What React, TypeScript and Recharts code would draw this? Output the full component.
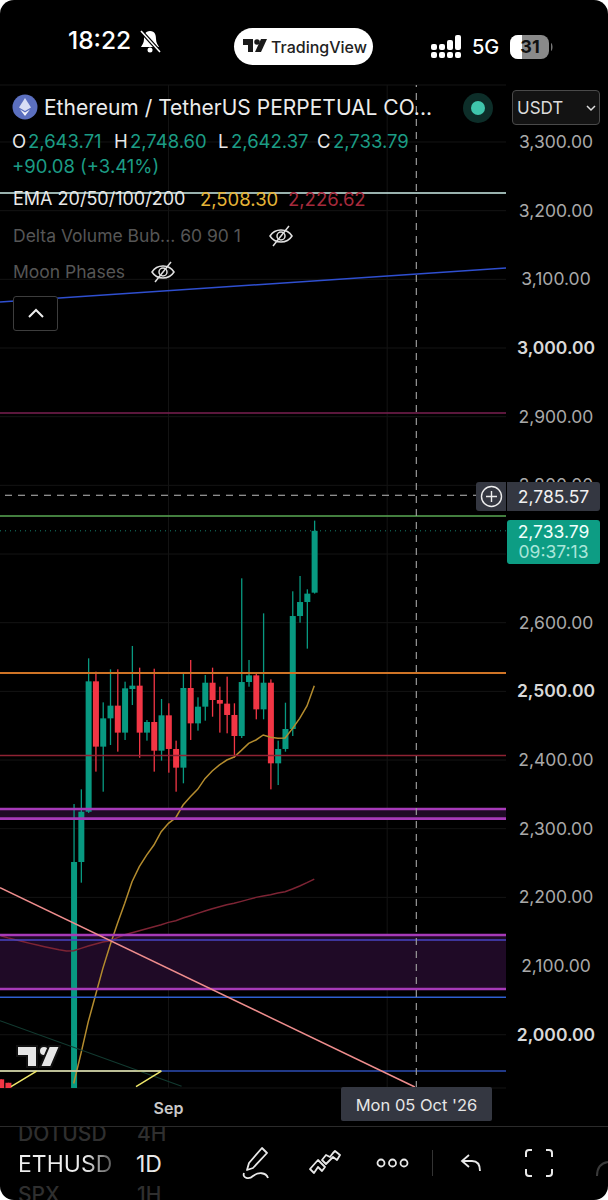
import React from 'react';
import {
    ComposedChart, Bar, Line, XAxis, YAxis, CartesianGrid, ReferenceLine, ReferenceArea
} from 'recharts';

// Candle slots, slot 13 is the "Sep" tick. Slots -8..-1 sit under the visible price range
const slots = [-10, -9, -8, -7, -6, -5, -4, -3, -2, -1, 0, 1, 2, 3, 4, 5, 6, 7, 8, 9, 10, 11, 12, 13, 14, 15, 16, 17, 18, 19, 20, 21, 22, 23, 24, 25, 26, 27, 28, 29, 30, 31, 32, 33];
const _ = null;
const opens = [1935, 1930, _, _, _, _, _, _, _, _, 1810, 2251.5, 2324.7, 2514.6, 2419.5, 2460.7, 2479.2, 2439.9, 2503.4, 2508.3, 2439.9, 2455.4, 2413.6, 2465.1, 2416.1, 2388.9, 2504.9, 2453.4, 2477.7, 2512.6, 2487.4, 2482.1, 2465.6, 2435, 2513.6, 2523.3, 2473.8, 2512.6, 2395.2, 2416.1, 2445.2, 2609.7, 2630.1, 2643.71];
const highs = [1935, 1930, _, _, _, _, _, _, _, _, 2335.9, 2357.3, 2548.1, 2528.7, 2484, 2532.1, 2532.1, 2514.1, 2566.1, 2534.5, 2458.3, 2533, 2488.9, 2482.6, 2428.2, 2526.2, 2545.7, 2491.3, 2523.8, 2534.5, 2506.8, 2521.4, 2482.6, 2664.6, 2545.7, 2526.2, 2613.6, 2517.5, 2428.2, 2483.5, 2645.7, 2668, 2648.6, 2748.6];
const lows = [1880, 1880, _, _, _, _, _, _, _, _, 1790, 2221.4, 2323, 2383.1, 2353.9, 2421.9, 2412.2, 2429.2, 2480.1, 2403.4, 2428.2, 2383.1, 2399.1, 2381.6, 2353.9, 2366.1, 2429.2, 2442.8, 2457.3, 2463.1, 2439.9, 2438.9, 2403.4, 2432.1, 2506.8, 2459.3, 2459.3, 2357.3, 2363.6, 2412.2, 2435, 2600, 2562.2, 2642.37];
const closes = [1900, 1895, _, _, _, _, _, _, _, _, 2251.5, 2324.7, 2514.6, 2419.5, 2460.7, 2479.2, 2439.9, 2504.4, 2508.3, 2439.9, 2455.4, 2413.6, 2465.1, 2416.1, 2388.9, 2504.9, 2453.4, 2477.7, 2512.6, 2487.4, 2482.1, 2465.6, 2435, 2513.6, 2523.3, 2473.8, 2512.6, 2395.2, 2416.1, 2445.2, 2609.7, 2630.1, 2642.3, 2733.79];
const ema20 = [_, _, _, _, _, _, _, _, _, _, 1929, 1972.8, 2019, 2057.8, 2096.6, 2130.6, 2162.1, 2191.3, 2222.8, 2244.7, 2261.6, 2276.2, 2295.6, 2307.8, 2316, 2334.5, 2346.6, 2357.3, 2372.9, 2384, 2392.8, 2400, 2404.4, 2414.1, 2424.3, 2429.2, 2436.5, 2433.1, 2431.6, 2432.1, 2445.7, 2460.7, 2478.7, 2508.3];
const ema50 = [2144.2, 2141, 2138.3, 2135.6, 2133, 2130.6, 2128.2, 2126, 2123.8, 2121.9, 2122.3, 2125.7, 2129.1, 2132, 2135, 2136.9, 2141.3, 2145.6, 2148.5, 2151.5, 2154.4, 2157.3, 2160.2, 2163.6, 2166, 2169.9, 2173.3, 2176.7, 2180.1, 2183.5, 2186.4, 2189.3, 2191.3, 2194.2, 2197.1, 2200, 2202, 2203.9, 2206.3, 2208.2, 2212.1, 2216.5, 2221.4, 2226.62];

const priceTicks = [3300, 3200, 3100, 3000, 2900, 2800, 2700, 2600, 2500, 2400, 2300, 2200, 2100, 2000];
const boldTicks = [3000, 2500, 2000];
const hiddenTicks = [2700]; // sits under the last price label
const lastClose = 2733.79;
const crosshairPrice = 2785.57;

const chartData = slots.map((slot, i) => ({
    slot,
    open: opens[i],
    high: highs[i],
    low: lows[i],
    close: closes[i],
    ema20: ema20[i],
    ema50: ema50[i],
}));

const GREEN = '#089981';
const RED = '#f23645';
const MONO = 'Inter, "Noto Sans", sans-serif';

const CandleShape = (props: any) => {
    const { x, y, width, height, payload } = props;
    if (!payload || payload.open == null) return null;
    const k = height / (payload.high - payload.low);
    const top = y + (payload.high - Math.max(payload.open, payload.close)) * k;
    const bodyH = Math.abs(payload.open - payload.close) * k;
    const color = payload.close >= payload.open ? GREEN : RED;
    return (
        <g>
            <rect x={x + width / 2 - 0.65} y={y} width={1.3} height={height} fill={color} />
            <rect x={x} y={top} width={width} height={Math.max(bodyH, 1)} fill={color} />
        </g>
    );
};

const PriceTick = (props: any) => {
    const { y, payload } = props;
    if (hiddenTicks.includes(payload.value)) return null;
    const bold = boldTicks.includes(payload.value);
    return (
        <text
            x={556}
            y={y}
            dy={6}
            textAnchor="middle"
            fontSize={17.5}
            fontFamily={MONO}
            fontWeight={bold ? 600 : 400}
            fill={bold ? '#d8d8d8' : '#a9a9a9'}
        >
            {payload.value.toLocaleString('en-US', { minimumFractionDigits: 2 })}
        </text>
    );
};

const Label: React.FC<{ x: number; y: number; size?: number; color?: string; weight?: number; children: React.ReactNode }> = ({ x, y, size = 17, color = '#e8e8e8', weight = 400, children }) => (
    <div style={{
        position: 'absolute', left: x, top: y, transform: 'translateY(-50%)', fontSize: size,
        color, fontWeight: weight, whiteSpace: 'nowrap', fontFamily: MONO, lineHeight: 1
    }}>
        {children}
    </div>
);

const EyeOff: React.FC<{ x: number; y: number }> = ({ x, y }) => (
    <svg style={{ position: 'absolute', left: x - 13, top: y - 12 }} width={26} height={24} fill="none" stroke="#e0e0e0" strokeWidth={1.5}>
        <path d="M2 12 C7 4 19 4 24 12 C19 20 7 20 2 12 Z" />
        <circle cx={13} cy={12} r={4} />
        <path d="M21 2 L5 22" />
    </svg>
);

// Everything that is phone/app chrome around the chart
const Overlay = () => (
    <>
        {/* status bar */}
        <Label x={68} y={40} size={24.5} color="#fff" weight={500}>18:22</Label>
        <svg style={{ position: 'absolute', left: 138, top: 28 }} width={24} height={26} fill="#fff" stroke="none">
            <path d="M12 3 C7 3 6 7 6 11 C6 15 4 17 3 19 L21 19 C20 17 18 15 18 11 C18 7 17 3 12 3 Z" />
            <circle cx={12} cy={22} r={2.5} />
            <path d="M3 3 L22 24" stroke="#000" strokeWidth={4} />
            <path d="M3 3 L22 24" stroke="#fff" strokeWidth={1.6} />
        </svg>
        <div style={{ position: 'absolute', left: 234, top: 28, width: 139, height: 37, borderRadius: 19, background: '#fff' }} />
        <svg style={{ position: 'absolute', left: 243, top: 46 - 7 }} width={24} height={14} fill="#1a1a1a">
            <path d="M0 0 H10 V13 H5 V6 H0 Z" />
            <circle cx={14} cy={3} r={2.8} />
            <path d="M18 0 H24 L18 13 H12 Z" />
        </svg>
        <Label x={271} y={47} size={16} color="#222" weight={500}>TradingView</Label>
        <svg style={{ position: 'absolute', left: 430, top: 34 }} width={36} height={26} fill="#fff">
            <rect x={1} y={10} width={6} height={6} rx={2} />
            <rect x={1} y={18} width={6} height={6} rx={2} />
            <rect x={9} y={10} width={6} height={6} rx={2} />
            <rect x={9} y={18} width={6} height={6} rx={2} />
            <rect x={17} y={6} width={6} height={10} rx={2} />
            <rect x={17} y={18} width={6} height={6} rx={2} />
            <rect x={25} y={1} width={6} height={15} rx={2} />
            <rect x={25} y={18} width={6} height={6} rx={2} />
        </svg>
        <Label x={472} y={47} size={20} color="#fff" weight={500}>5G</Label>
        <svg style={{ position: 'absolute', left: 510, top: 34 }} width={45} height={26}>
            <rect x={0} y={1} width={39} height={24} rx={8} fill="#8a8a8a" />
            <path d="M8 1 H12 V25 H8 A8 8 0 0 1 0 17 V9 A8 8 0 0 1 8 1 Z" fill="#fff" />
            <path d="M41 9 C43 10 43 16 41 17 Z" fill="#777" />
            <text x={20} y={19} textAnchor="middle" fontSize={18} fontWeight={700} fontFamily={MONO} fill="#111">31</text>
        </svg>

        {/* symbol legend */}
        <svg style={{ position: 'absolute', left: 12, top: 94 }} width={26} height={26}>
            <circle cx={13} cy={13} r={12.5} fill="#5b6fbf" />
            <path d="M13 4 L19 13.5 L13 17 L7 13.5 Z" fill="#d8def5" />
            <path d="M13 18.5 L18 15.5 L13 22 L8 15.5 Z" fill="#f0f2fb" />
        </svg>
        <Label x={44} y={107} size={21} color="#ececec">Ethereum / TetherUS PERPETUAL CO...</Label>
        <svg style={{ position: 'absolute', left: 463, top: 93 }} width={30} height={30}>
            <circle cx={15} cy={15} r={15} fill="#0d2e29" />
            <circle cx={15} cy={15} r={7} fill="#3fc6ac" />
        </svg>
        <div style={{ position: 'absolute', left: 512, top: 90, width: 88, height: 35, border: '1.5px solid #4a4a4a', borderRadius: 4, background: '#131313', boxSizing: 'border-box' }} />
        <Label x={517} y={108} size={17} color="#dcdcdc">USDT</Label>
        <svg style={{ position: 'absolute', left: 586, top: 103 }} width={10} height={10} fill="none" stroke="#ddd" strokeWidth={1.5}>
            <path d="M1 3 L5 7 L9 3" />
        </svg>

        <Label x={12} y={141} size={18.5}>O</Label>
        <Label x={28} y={141} size={18.5} color="#1c9c85">2,643.71</Label>
        <Label x={114} y={141} size={18.5}>H</Label>
        <Label x={130} y={141} size={18.5} color="#1c9c85">2,748.60</Label>
        <Label x={218} y={141} size={18.5}>L</Label>
        <Label x={231} y={141} size={18.5} color="#1c9c85">2,642.37</Label>
        <Label x={317} y={141} size={18.5}>C</Label>
        <Label x={333} y={141} size={18.5} color="#1c9c85">2,733.79</Label>
        <Label x={12} y={166} size={18.5} color="#1c9c85">+90.08 (+3.41%)</Label>
        <Label x={13} y={199} size={18}>EMA 20/50/100/200</Label>
        <Label x={200} y={199} size={18.5} color="#e5b437">2,508.30</Label>
        <Label x={288} y={199} size={18.5} color="#a62a3c">2,226.62</Label>
        <Label x={13} y={236} size={17.5} color="#565656">Delta Volume Bub... 60 90 1</Label>
        <EyeOff x={281} y={236} />
        <Label x={13} y={272} size={17.5} color="#565656">Moon Phases</Label>
        <EyeOff x={163} y={272} />
        <div style={{ position: 'absolute', left: 13, top: 296, width: 45, height: 35, border: '1px solid #3d3d3d', borderRadius: 3, background: '#000', boxSizing: 'border-box' }} />
        <svg style={{ position: 'absolute', left: 26, top: 306 }} width={20} height={14} fill="none" stroke="#eee" strokeWidth={2}>
            <path d="M3 11 L10 4 L17 11" />
        </svg>

        {/* price labels on the scale */}
        <div style={{ position: 'absolute', left: 476, top: 482, width: 30, height: 29, background: '#343741', borderRadius: '3px 0 0 3px' }} />
        <svg style={{ position: 'absolute', left: 480, top: 485 }} width={23} height={23} fill="none" stroke="#eee" strokeWidth={1.4}>
            <circle cx={11.5} cy={11.5} r={10} />
            <path d="M11.5 6 V17 M6 11.5 H17" />
        </svg>
        <div style={{ position: 'absolute', left: 507, top: 482, width: 93, height: 29, background: '#343741', borderRadius: '0 3px 3px 0', color: '#f0f0f0', fontSize: 17.5, fontFamily: MONO, textAlign: 'center', lineHeight: '29px' }}>
            2,785.57
        </div>
        <div style={{ position: 'absolute', left: 507, top: 520, width: 93, height: 44, background: '#0d9d84', borderRadius: 3, fontSize: 17.5, fontFamily: MONO, textAlign: 'center', lineHeight: '20px', paddingTop: 2, boxSizing: 'border-box' }}>
            <div style={{ color: '#f0fffb' }}>2,733.79</div>
            <div style={{ color: '#a9e6d9' }}>09:37:13</div>
        </div>

        {/* watermark */}
        <svg style={{ position: 'absolute', left: 15, top: 1044 }} width={46} height={25}>
            <g stroke="#111" strokeWidth={2} fill="#e6e6e6">
                <path d="M2 2 H22 V23 H12 V12 H2 Z" />
                <circle cx={29} cy={7} r={5} />
                <path d="M34 2 H45 L36 23 H25 Z" />
            </g>
        </svg>

        {/* date label */}
        <div style={{ position: 'absolute', left: 341, top: 1087, width: 151, height: 34, background: '#343741', borderRadius: 2, color: '#e6e6e6', fontSize: 16.5, fontFamily: MONO, textAlign: 'center', lineHeight: '36px' }}>
            Mon 05 Oct '26
        </div>

        {/* bottom toolbar */}
        <div style={{ position: 'absolute', left: 0, top: 1126, width: 608, height: 1, background: '#2b2b2b' }} />
        <div style={{ position: 'absolute', left: 0, top: 1127, width: 608, height: 73, overflow: 'hidden' }}>
            <Label x={18} y={6} size={21} color="#2f2f2f" weight={500}>DOTUSD</Label>
            <Label x={137} y={6} size={21} color="#2f2f2f" weight={500}>4H</Label>
            <Label x={18} y={67} size={21} color="#2f2f2f" weight={500}>SPX</Label>
            <Label x={137} y={67} size={21} color="#2f2f2f" weight={500}>1H</Label>
        </div>
        <Label x={18} y={1164} size={23} color="#e8e8e8">
            <span style={{ background: 'linear-gradient(90deg, #eee 70%, #555 100%)', WebkitBackgroundClip: 'text', backgroundClip: 'text', color: 'transparent' }}>ETHUSD</span>
        </Label>
        <Label x={136} y={1164} size={23} color="#e8e8e8">1D</Label>
        <svg style={{ position: 'absolute', left: 240, top: 1145 }} width={34} height={36} fill="none" stroke="#e8e8e8" strokeWidth={1.8} strokeLinejoin="round">
            <path d="M22 3 L27 8 L13 23 L7 25 L9 18 Z" />
            <path d="M28 33 C26 27 18 27 13 31 C9 35 2 33 4 28" />
        </svg>
        <svg style={{ position: 'absolute', left: 308, top: 1150 }} width={34} height={26} fill="none" stroke="#e8e8e8" strokeWidth={1.8} strokeLinejoin="round">
            <path d="M2 19 L10 10 L17 17 L14 21 L10 17 L6 23 Z" />
            <path d="M14 10 L18 14 L25 7 L29 10 L32 5 L27 1 L25 3 L22 7 L18 5 Z" />
        </svg>
        <svg style={{ position: 'absolute', left: 375, top: 1155 }} width={36} height={16} fill="none" stroke="#e8e8e8" strokeWidth={1.8}>
            <circle cx={6} cy={8} r={3.5} />
            <circle cx={17.5} cy={8} r={3.5} />
            <circle cx={29} cy={8} r={3.5} />
        </svg>
        <div style={{ position: 'absolute', left: 432, top: 1150, width: 1, height: 26, background: '#333' }} />
        <svg style={{ position: 'absolute', left: 460, top: 1153 }} width={24} height={22} fill="none" stroke="#e8e8e8" strokeWidth={1.8}>
            <path d="M9 2 L2 8 L9 14" />
            <path d="M2 8 H12 C18 8 20 13 20 18" />
        </svg>
        <svg style={{ position: 'absolute', left: 524, top: 1148 }} width={30} height={30} fill="none" stroke="#e8e8e8" strokeWidth={2}>
            <path d="M8 2 H5 A3 3 0 0 0 2 5 V9 M22 2 H25 A3 3 0 0 1 28 5 V9 M2 21 V25 A3 3 0 0 0 5 28 H8 M28 21 V25 A3 3 0 0 1 25 28 H22" />
        </svg>
        <svg style={{ position: 'absolute', left: 596, top: 1160 }} width={12} height={20} fill="none" stroke="#3a3a3a" strokeWidth={2}>
            <path d="M1 16 C1 8 5 3 12 2" />
        </svg>
    </>
);

export default function App() {
    return (
        <div style={{ position: 'absolute', left: 0, top: 0, width: 608, height: 1200, background: '#000', overflow: 'hidden', borderRadius: 14 }}>
            <ComposedChart
                width={608}
                height={1200}
                data={chartData}
                margin={{ top: 85, right: 0, bottom: 92, left: 0 }}
                barSize={6}
            >
                <CartesianGrid stroke="#141414" strokeWidth={1} verticalValues={[13, 43]} />
                <XAxis
                    dataKey="slot"
                    type="number"
                    domain={[-10.11, 59.3]}
                    allowDataOverflow
                    ticks={[13]}
                    tickFormatter={() => 'Sep'}
                    tickLine={false}
                    axisLine={false}
                    height={20}
                    tick={{ fill: '#c9c9c9', fontSize: 16, fontWeight: 600, fontFamily: MONO, dy: 7 }}
                />
                <YAxis
                    type="number"
                    orientation="right"
                    width={102}
                    domain={[1922.4, 3383]}
                    allowDataOverflow
                    ticks={priceTicks}
                    interval={0}
                    tickLine={false}
                    axisLine={false}
                    tick={<PriceTick />}
                />

                <ReferenceArea y1={2066.5} y2={2145.2} fill="#1f0a26" fillOpacity={1} stroke="none" />
                <ReferenceArea y1={2314.6} y2={2328.6} fill="#1f0a26" fillOpacity={1} stroke="none" />

                <Bar dataKey={(d: any) => (d.high == null ? null : [d.low, d.high])} shape={<CandleShape />} isAnimationActive={false} />

                <Line dataKey="ema20" type="linear" stroke="#b48c2e" strokeWidth={1.5} dot={false} activeDot={false} isAnimationActive={false} />
                <Line dataKey="ema50" type="linear" stroke="#7d2434" strokeWidth={1.5} dot={false} activeDot={false} isAnimationActive={false} />

                <ReferenceLine y={3225.7} stroke="#cdeee8" strokeWidth={1.5} />
                <ReferenceLine y={2905.4} stroke="#7a1f50" strokeWidth={1.5} />
                <ReferenceLine y={2755.4} stroke="#5aa855" strokeWidth={1.5} />
                <ReferenceLine y={lastClose} stroke="#15806e" strokeWidth={1} strokeDasharray="1 4" />
                <ReferenceLine y={2526.7} stroke="#cf7426" strokeWidth={2} />
                <ReferenceLine y={2406.6} stroke="#8f2233" strokeWidth={1.5} />
                <ReferenceLine y={2328.6} stroke="#a63ab8" strokeWidth={2.6} />
                <ReferenceLine y={2314.6} stroke="#a63ab8" strokeWidth={2.6} />
                <ReferenceLine y={2145.2} stroke="#a63ab8" strokeWidth={2.6} />
                <ReferenceLine y={2137.9} stroke="#4a45c4" strokeWidth={1.5} />
                <ReferenceLine y={2066.5} stroke="#a63ab8" strokeWidth={2.6} />
                <ReferenceLine y={2054.4} stroke="#2f5fd0" strokeWidth={1.5} />
                <ReferenceLine y={1947.1} stroke="#2c4db4" strokeWidth={1.5} />
                <ReferenceLine y={crosshairPrice} stroke="#bdbdbd" strokeWidth={1} strokeDasharray="7 6" />
                <ReferenceLine x={47} stroke="#9a9a9a" strokeWidth={1.2} strokeDasharray="7 6" />

                <ReferenceLine segment={[{ x: -10.11, y: 3067 }, { x: 59.3, y: 3116.5 }]} stroke="#2f4fd0" strokeWidth={1.6} />
                <ReferenceLine segment={[{ x: -10.11, y: 2214.1 }, { x: 46.8, y: 1923.9 }]} stroke="#ee8d8d" strokeWidth={1.5} />
                <ReferenceLine segment={[{ x: -10.11, y: 2020.4 }, { x: 14.8, y: 1925 }]} stroke="#123a30" strokeWidth={1.2} />
                <ReferenceLine segment={[{ x: -10.11, y: 1947.1 }, { x: 12.02, y: 1947.1 }]} stroke="#efeb9b" strokeWidth={1.5} />
                <ReferenceLine segment={[{ x: -5.08, y: 1947.1 }, { x: -8.6, y: 1924.5 }]} stroke="#efe86a" strokeWidth={1.5} />
                <ReferenceLine segment={[{ x: 12.02, y: 1947.1 }, { x: 8.55, y: 1924.5 }]} stroke="#efe86a" strokeWidth={1.5} />
            </ComposedChart>
            <Overlay />
        </div>
    );
}
